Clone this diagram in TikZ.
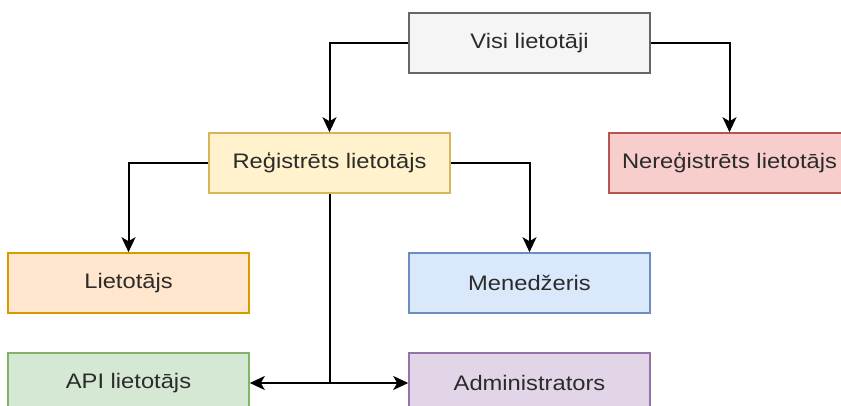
\documentclass[tikz,border=0pt]{standalone}
\usepackage{fontspec}
\setmainfont{Liberation Sans}
\usepackage{graphicx}
\usetikzlibrary{arrows.meta}

% fill / stroke pairs for the role boxes
\definecolor{grayfill}{HTML}{F5F5F5}\definecolor{grayline}{HTML}{666666}
\definecolor{yellowfill}{HTML}{FFF2CC}\definecolor{yellowline}{HTML}{D6B656}
\definecolor{redfill}{HTML}{F8CECC}\definecolor{redline}{HTML}{B85450}
\definecolor{orangefill}{HTML}{FFE6CC}\definecolor{orangeline}{HTML}{D79B00}
\definecolor{bluefill}{HTML}{DAE8FC}\definecolor{blueline}{HTML}{6C8EBF}
\definecolor{greenfill}{HTML}{D5E8D4}\definecolor{greenline}{HTML}{82B366}
\definecolor{purplefill}{HTML}{E1D5E7}\definecolor{purpleline}{HTML}{9673A6}
\definecolor{labeltext}{HTML}{2B2B2B}

% labels are set slightly wide
\newcommand{\widelabel}[1]{\scalebox{1.13}[1]{#1}}

\begin{document}
\begin{tikzpicture}[x=1pt,y=-1pt,
  rolebox/.style={draw, line width=1.6pt, minimum width=241pt, minimum height=60pt,
    inner sep=0pt, font=\fontsize{21}{25}\selectfont, text=labeltext},
  conn/.style={line width=2pt, black},
  link/.style={conn, -{Stealth[length=15pt,width=14pt,inset=4pt]}},
]
\useasboundingbox (0,0) rectangle (841,406);
\clip (0,0) rectangle (841,406);

\node[rolebox, fill=grayfill, draw=grayline]     (visi)  at (529.5,43)  {\widelabel{Visi lietotāji}};
\node[rolebox, fill=yellowfill, draw=yellowline] (reg)   at (329.5,163) {\widelabel{Reģistrēts lietotājs}};
\node[rolebox, fill=redfill, draw=redline]       (nereg) at (729.5,163) {\widelabel{Nereģistrēts lietotājs}};
\node[rolebox, fill=orangefill, draw=orangeline] (liet)  at (128.5,283) {\widelabel{Lietotājs}};
\node[rolebox, fill=bluefill, draw=blueline]     (mened) at (529.5,283) {\widelabel{Menedžeris}};
\node[rolebox, fill=greenfill, draw=greenline]   (api)   at (128.5,383) {\widelabel{API lietotājs}};
\node[rolebox, fill=purplefill, draw=purpleline] (admin) at (529.5,383) {\widelabel{Administrators}};

\draw[link] (visi.west) -| (reg.north);
\draw[link] (visi.east) -| (nereg.north);
\draw[link] (reg.west) -| (liet.north);
\draw[link] (reg.east) -| (mened.north);

\coordinate (split) at (reg.south |- api.east);
\draw[conn] (reg.south) -- (split);
\draw[link] (split) -- (api.east);
\draw[link] (split) -- (admin.west);
\end{tikzpicture}
\end{document}
